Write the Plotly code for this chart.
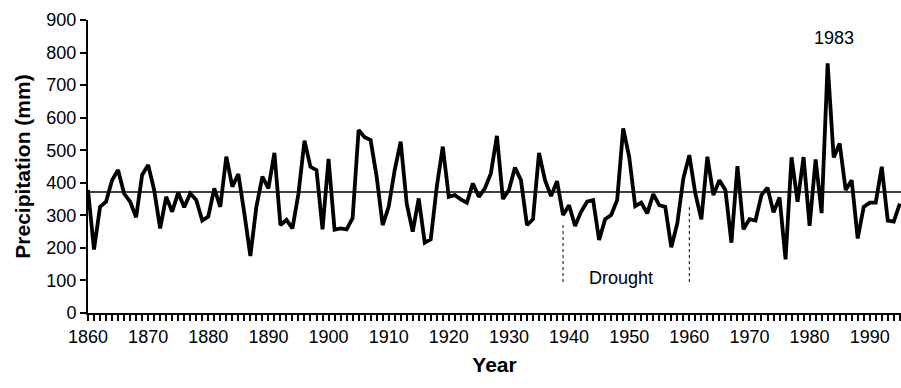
import plotly.graph_objects as go

years = list(range(1860, 1996))
precip = [
    378, 195, 326, 342, 408, 439, 367, 342, 294, 424,   # 1860-1869
    455, 378, 260, 357, 311, 370, 325, 367, 347, 284,   # 1870-1879
    296, 383, 326, 480, 388, 427, 306, 175, 326, 419,   # 1880-1889
    383, 492, 270, 286, 260, 367, 529, 449, 439, 257,   # 1890-1899
    473, 256, 260, 257, 291, 562, 540, 531, 419, 270,   # 1900-1909
    326, 439, 526, 336, 250, 352, 216, 226, 388, 511,   # 1910-1919
    357, 362, 349, 339, 398, 357, 383, 429, 544, 350,   # 1920-1929
    378, 447, 408, 270, 288, 492, 408, 359, 405, 301,   # 1930-1939
    331, 267, 311, 342, 347, 224, 288, 301, 347, 567,   # 1940-1949
    480, 328, 339, 306, 365, 331, 326, 202, 275, 413,   # 1950-1959
    485, 367, 288, 480, 362, 408, 378, 216, 451, 257,   # 1960-1969
    288, 284, 362, 385, 309, 355, 165, 478, 342, 479,   # 1970-1979
    268, 472, 307, 767, 478, 521, 378, 408, 229, 326,   # 1980-1989
    339, 339, 449, 284, 281, 336,                       # 1990-1995
]
mean_precip = 372

drought_years = [1939, 1960]
drought_tops = [280, 325]
drought_label = "Drought"
peak_label = "1983"

x_tick_vals = list(range(1860, 2000, 10))
y_tick_vals = list(range(0, 1000, 100))

FONT = "Liberation Sans, Arial, sans-serif"

fig = go.Figure()

fig.add_trace(go.Scatter(
    x=years, y=precip, mode="lines",
    line=dict(color="black", width=3.8),
    showlegend=False, hoverinfo="skip",
))

fig.add_trace(go.Scatter(
    x=[1860, 1995.3], y=[mean_precip, mean_precip], mode="lines",
    line=dict(color="black", width=1.5),
    showlegend=False, hoverinfo="skip",
))

for yr, top in zip(drought_years, drought_tops):
    fig.add_shape(type="line", xref="x", yref="y",
                  x0=yr, x1=yr, y0=95, y1=top,
                  line=dict(color="black", width=1, dash="dot"))

fig.add_annotation(x=sum(drought_years) / 2 - 0.8, y=108, xref="x", yref="y",
                   text=drought_label, showarrow=False,
                   font=dict(family=FONT, size=18, color="black"))

fig.add_annotation(x=1984, y=846, xref="x", yref="y",
                   text=peak_label, showarrow=False,
                   font=dict(family=FONT, size=18, color="black"))

fig.update_layout(
    width=901, height=388,
    margin=dict(l=88, r=0, t=20, b=75),
    paper_bgcolor="white", plot_bgcolor="white",
    font=dict(family=FONT, size=18, color="black"),
    xaxis=dict(
        range=[1860, 1995.2],
        tickmode="array", tickvals=x_tick_vals,
        ticks="outside", ticklen=6, tickwidth=1.5, tickcolor="black",
        minor=dict(dtick=1, tick0=1860, ticks="outside", ticklen=6,
                   tickwidth=1.5, tickcolor="black", showgrid=False),
        showline=True, linecolor="black", linewidth=2,
        showgrid=False, zeroline=False,
        tickfont=dict(family=FONT, size=18),
        title=dict(text="<b>Year</b>", font=dict(family=FONT, size=21),
                   standoff=12),
        automargin=False,
    ),
    yaxis=dict(
        range=[0, 900],
        tickmode="array", tickvals=y_tick_vals,
        ticks="outside", ticklen=6, tickwidth=1.5, tickcolor="black",
        showline=True, linecolor="black", linewidth=2,
        showgrid=False, zeroline=False,
        tickfont=dict(family=FONT, size=18),
        title=dict(text="<b>Precipitation (mm)</b>",
                   font=dict(family=FONT, size=21), standoff=10),
        automargin=False,
    ),
)

fig.write_html("out.html")
